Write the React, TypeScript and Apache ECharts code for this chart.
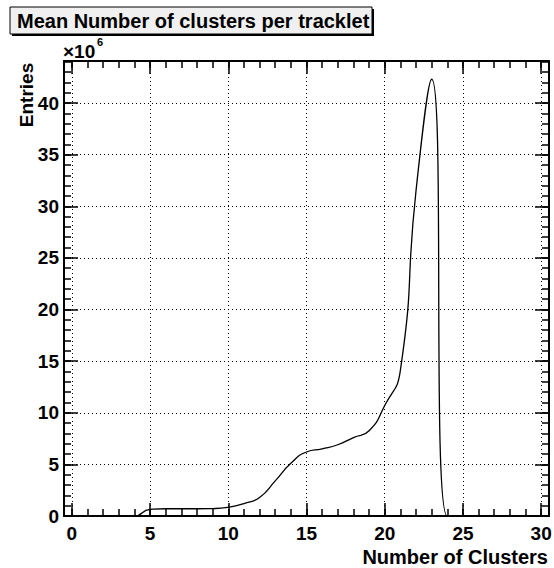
import React, { useEffect, useRef } from "react";
import * as echarts from "echarts";

// Bin centres (number of clusters) and entries (in units of 10^6)
const clusters = [0,1,2,3,4,5,6,7,8,9,10,11,12,13,14,15,16,17,18,19,20,21,22,23,24,25,26,27,28,29,30];
const entries = [0,0,0,0,0,0.65,0.7,0.7,0.7,0.72,0.85,1.2,1.8,3.4,5.1,6.2,6.5,6.9,7.6,8.25,10.7,14.1,31.5,42.3,0,0,0,0,0,0,0];

const xMajorTicks = [0,5,10,15,20,25,30];
const xMinorTicks = [0,1,2,3,4,5,6,7,8,9,10,11,12,13,14,15,16,17,18,19,20,21,22,23,24,25,26,27,28,29,30];
const yMajorTicks = [0,5,10,15,20,25,30,35,40];
const yMinorTicks = [0,1,2,3,4,5,6,7,8,9,10,11,12,13,14,15,16,17,18,19,20,21,22,23,24,25,26,27,28,29,30,31,32,33,34,35,36,37,38,39,40,41,42,43,44];

const titleText = "Mean Number of clusters per tracklet";
const xTitle = "Number of Clusters";
const yTitle = "Entries";
const FONT = "'Liberation Sans', Arial, Helvetica, sans-serif";

export default function App() {
  const ref = useRef<HTMLDivElement>(null);
  useEffect(() => {
    if (!ref.current) return;
    const chart = echarts.init(ref.current, null, { renderer: "svg" });
    const xRange = { min: -0.5, max: 30.5 };
    const yRange = { min: 0, max: 44.07 };
    const black = "#000";
    const mkX = (position: string, major: boolean, labels: boolean, line: boolean) => ({
      type: "value",
      position,
      ...xRange,
      axisLine: { show: line, onZero: false, lineStyle: { color: black, width: 2 } },
      axisTick: {
        show: true, inside: true, length: major ? 13 : 7,
        customValues: major ? xMajorTicks : xMinorTicks,
        lineStyle: { color: black, width: 1.5 },
      },
      axisLabel: {
        show: labels, customValues: xMajorTicks, margin: 8,
        color: black, fontSize: 19, fontWeight: "bold", fontFamily: FONT,
      },
      splitLine: {
        show: labels,
        lineStyle: { color: black, width: 1, type: [1, 3] },
      },
    });
    const mkY = (position: string, major: boolean, labels: boolean, line: boolean) => ({
      type: "value",
      position,
      ...yRange,
      axisLine: { show: line, onZero: false, lineStyle: { color: black, width: 2 } },
      axisTick: {
        show: true, inside: true, length: major ? 14 : 7,
        customValues: major ? yMajorTicks : yMinorTicks,
        lineStyle: { color: black, width: 1.5 },
      },
      axisLabel: {
        show: labels, customValues: yMajorTicks, margin: 5,
        color: black, fontSize: 19, fontWeight: "bold", fontFamily: FONT,
      },
      splitLine: {
        show: labels,
        lineStyle: { color: black, width: 1, type: [1, 3] },
      },
    });
    chart.setOption({
      animation: false,
      backgroundColor: "#fff",
      grid: { left: 64, top: 61, width: 485, height: 455, outerBoundsMode: "none" },
      xAxis: [
        mkX("bottom", true, true, true),
        mkX("bottom", false, false, false),
        mkX("top", true, false, true),
        mkX("top", false, false, false),
      ],
      yAxis: [
        mkY("left", true, true, true),
        mkY("left", false, false, false),
        mkY("right", true, false, true),
        mkY("right", false, false, false),
      ],
      series: [
        {
          type: "line",
          xAxisIndex: 0,
          yAxisIndex: 0,
          data: clusters.map((c, i) => [c, entries[i]]),
          smooth: 0.55,
          showSymbol: false,
          clip: false,
          lineStyle: { color: black, width: 1.3 },
        },
      ],
      graphic: [
        { type: "rect", shape: { x: 12, y: 9, width: 362, height: 27 }, style: { fill: "#000" } },
        { type: "rect", shape: { x: 10, y: 7, width: 362, height: 27 }, style: { fill: "#f0f0f0", stroke: "#000", lineWidth: 1 } },
        {
          type: "text", x: 17, y: 21,
          style: { text: titleText, font: `bold 20px ${FONT}`, fill: black, verticalAlign: "middle", align: "left" },
        },
        {
          type: "text", x: 63, y: 51,
          style: { text: "\u00d710", font: `bold 19px ${FONT}`, fill: black, verticalAlign: "middle", align: "left" },
        },
        {
          type: "text", x: 97, y: 42,
          style: { text: "6", font: `bold 11px ${FONT}`, fill: black, verticalAlign: "middle", align: "left" },
        },
        {
          type: "text", x: 26, y: 95, rotation: Math.PI / 2,
          style: { text: yTitle, font: `bold 19px ${FONT}`, fill: black, verticalAlign: "middle", align: "center" },
        },
        {
          type: "text", x: 548, y: 557,
          style: { text: xTitle, font: `bold 20px ${FONT}`, fill: black, verticalAlign: "middle", align: "right" },
        },
      ],
    });
    return () => chart.dispose();
  }, []);
  return (
    <div
      ref={ref}
      style={{ position: "fixed", left: 0, top: 0, width: 554, height: 568, background: "#fff" }}
    />
  );
}
